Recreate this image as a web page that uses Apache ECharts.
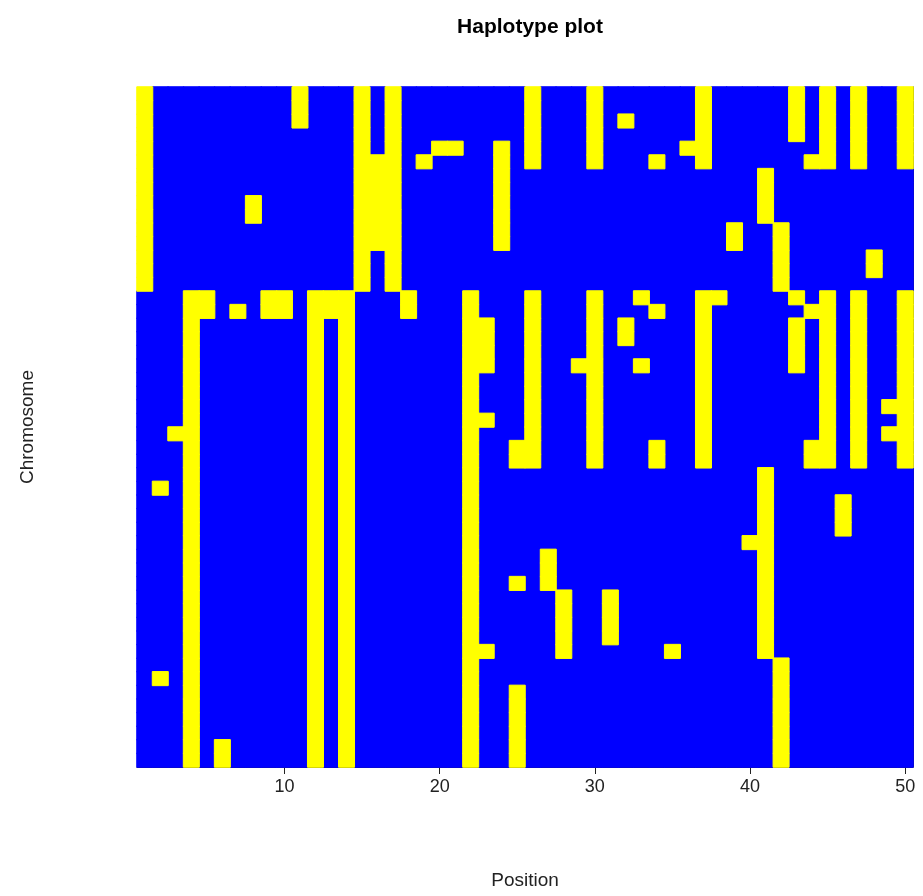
<!DOCTYPE html>
<html>
<head>
<meta charset="utf-8">
<script src="https://cdn.jsdelivr.net/npm/echarts@6/dist/echarts.min.js"></script>
<style>
html,body{margin:0;padding:0;background:#fff;}
#chart{width:923px;height:896px;}
</style>
</head>
<body>
<div id="chart"></div>
<script>
// Number of positions (columns) and chromosomes (rows)
const nPositions = 50;
const nChromosomes = 50;
// x tick labels shown
const xTickLabels = [10, 20, 30, 40, 50];
// For each chromosome (top to bottom), the positions carrying the yellow allele
const yellowPositions = [
  [1, 11, 15, 17, 26, 30, 37, 43, 45, 47, 50],
  [1, 11, 15, 17, 26, 30, 37, 43, 45, 47, 50],
  [1, 11, 15, 17, 26, 30, 32, 37, 43, 45, 47, 50],
  [1, 15, 17, 26, 30, 37, 43, 45, 47, 50],
  [1, 15, 17, 20, 21, 24, 26, 30, 36, 37, 45, 47, 50],
  [1, 15, 16, 17, 19, 24, 26, 30, 34, 37, 44, 45, 47, 50],
  [1, 15, 16, 17, 24, 41],
  [1, 15, 16, 17, 24, 41],
  [1, 8, 15, 16, 17, 24, 41],
  [1, 8, 15, 16, 17, 24, 41],
  [1, 15, 16, 17, 24, 39, 42],
  [1, 15, 16, 17, 24, 39, 42],
  [1, 15, 17, 42, 48],
  [1, 15, 17, 42, 48],
  [1, 15, 17, 42],
  [4, 5, 9, 10, 12, 13, 14, 18, 22, 26, 30, 33, 37, 38, 43, 45, 47, 50],
  [4, 5, 7, 9, 10, 12, 13, 14, 18, 22, 26, 30, 34, 37, 44, 45, 47, 50],
  [4, 12, 14, 22, 23, 26, 30, 32, 37, 43, 45, 47, 50],
  [4, 12, 14, 22, 23, 26, 30, 32, 37, 43, 45, 47, 50],
  [4, 12, 14, 22, 23, 26, 30, 37, 43, 45, 47, 50],
  [4, 12, 14, 22, 23, 26, 29, 30, 33, 37, 43, 45, 47, 50],
  [4, 12, 14, 22, 26, 30, 37, 45, 47, 50],
  [4, 12, 14, 22, 26, 30, 37, 45, 47, 50],
  [4, 12, 14, 22, 26, 30, 37, 45, 47, 49, 50],
  [4, 12, 14, 22, 23, 26, 30, 37, 45, 47, 50],
  [3, 4, 12, 14, 22, 26, 30, 37, 45, 47, 49, 50],
  [4, 12, 14, 22, 25, 26, 30, 34, 37, 44, 45, 47, 50],
  [4, 12, 14, 22, 25, 26, 30, 34, 37, 44, 45, 47, 50],
  [4, 12, 14, 22, 41],
  [2, 4, 12, 14, 22, 41],
  [4, 12, 14, 22, 41, 46],
  [4, 12, 14, 22, 41, 46],
  [4, 12, 14, 22, 41, 46],
  [4, 12, 14, 22, 40, 41],
  [4, 12, 14, 22, 27, 41],
  [4, 12, 14, 22, 27, 41],
  [4, 12, 14, 22, 25, 27, 41],
  [4, 12, 14, 22, 28, 31, 41],
  [4, 12, 14, 22, 28, 31, 41],
  [4, 12, 14, 22, 28, 31, 41],
  [4, 12, 14, 22, 28, 31, 41],
  [4, 12, 14, 22, 23, 28, 35, 41],
  [4, 12, 14, 22, 42],
  [2, 4, 12, 14, 22, 42],
  [4, 12, 14, 22, 25, 42],
  [4, 12, 14, 22, 25, 42],
  [4, 12, 14, 22, 25, 42],
  [4, 12, 14, 22, 25, 42],
  [4, 6, 12, 14, 22, 25, 42],
  [4, 6, 12, 14, 22, 25, 42]
];

const positions = [];
for (let i = 1; i <= nPositions; i++) positions.push(String(i));
const chromosomes = [];
for (let i = 1; i <= nChromosomes; i++) chromosomes.push(String(i));

const blueCells = [];
const yellowCells = [];
for (let r = 0; r < nChromosomes; r++) {
  const set = new Set(yellowPositions[r]);
  for (let c = 1; c <= nPositions; c++) {
    if (set.has(c)) yellowCells.push([c - 1, r, 1]);
    else blueCells.push([c - 1, r, 0]);
  }
}

const showTick = (idx) => xTickLabels.indexOf(idx + 1) >= 0;

const chart = echarts.init(document.getElementById('chart'), null, {renderer: 'canvas'});
chart.setOption({
  animation: false,
  backgroundColor: '#ffffff',
  textStyle: {fontFamily: 'Liberation Sans, Arial, sans-serif'},
  title: {
    text: 'Haplotype plot',
    left: 525,
    top: 12,
    textAlign: 'center',
    textStyle: {fontSize: 21, fontWeight: 'bold', color: '#000', fontFamily: 'Liberation Sans, Arial, sans-serif'}
  },
  grid: {left: 137, right: 10, top: 87, bottom: 129, containLabel: false},
  xAxis: {
    type: 'category',
    data: positions,
    boundaryGap: true,
    name: 'Position',
    nameLocation: 'middle',
    nameGap: 104,
    nameTextStyle: {fontSize: 19, color: '#222'},
    axisLine: {show: true, lineStyle: {color: '#222', width: 1}},
    axisTick: {show: true, alignWithLabel: true, interval: showTick, length: 7, lineStyle: {color: '#222'}},
    axisLabel: {show: true, interval: showTick, fontSize: 18, color: '#222', margin: 11},
    splitLine: {show: false}
  },
  yAxis: [{
    type: 'category',
    data: chromosomes,
    inverse: true,
    name: 'Chromosome',
    nameLocation: 'middle',
    nameGap: 100,
    nameRotate: 90,
    nameTextStyle: {fontSize: 19, color: '#222'},
    axisLine: {show: false},
    axisTick: {show: false},
    axisLabel: {show: false},
    splitLine: {show: false}
  }, {
    type: 'value',
    position: 'right',
    min: 0, max: 1,
    axisLine: {show: true, onZero: false, lineStyle: {color: '#222', width: 1}},
    axisTick: {show: false},
    axisLabel: {show: false},
    splitLine: {show: false}
  }],
  series: [{
    type: 'heatmap',
    name: 'blue',
    xAxisIndex: 0,
    yAxisIndex: 0,
    data: blueCells,
    itemStyle: {color: '#0000ff', borderColor: '#0000ff', borderWidth: 1},
    emphasis: {disabled: true}
  }, {
    type: 'heatmap',
    name: 'yellow',
    xAxisIndex: 0,
    yAxisIndex: 0,
    data: yellowCells,
    itemStyle: {color: '#ffff00', borderColor: '#ffff00', borderWidth: 1},
    emphasis: {disabled: true}
  }]
});
</script>
</body>
</html>
